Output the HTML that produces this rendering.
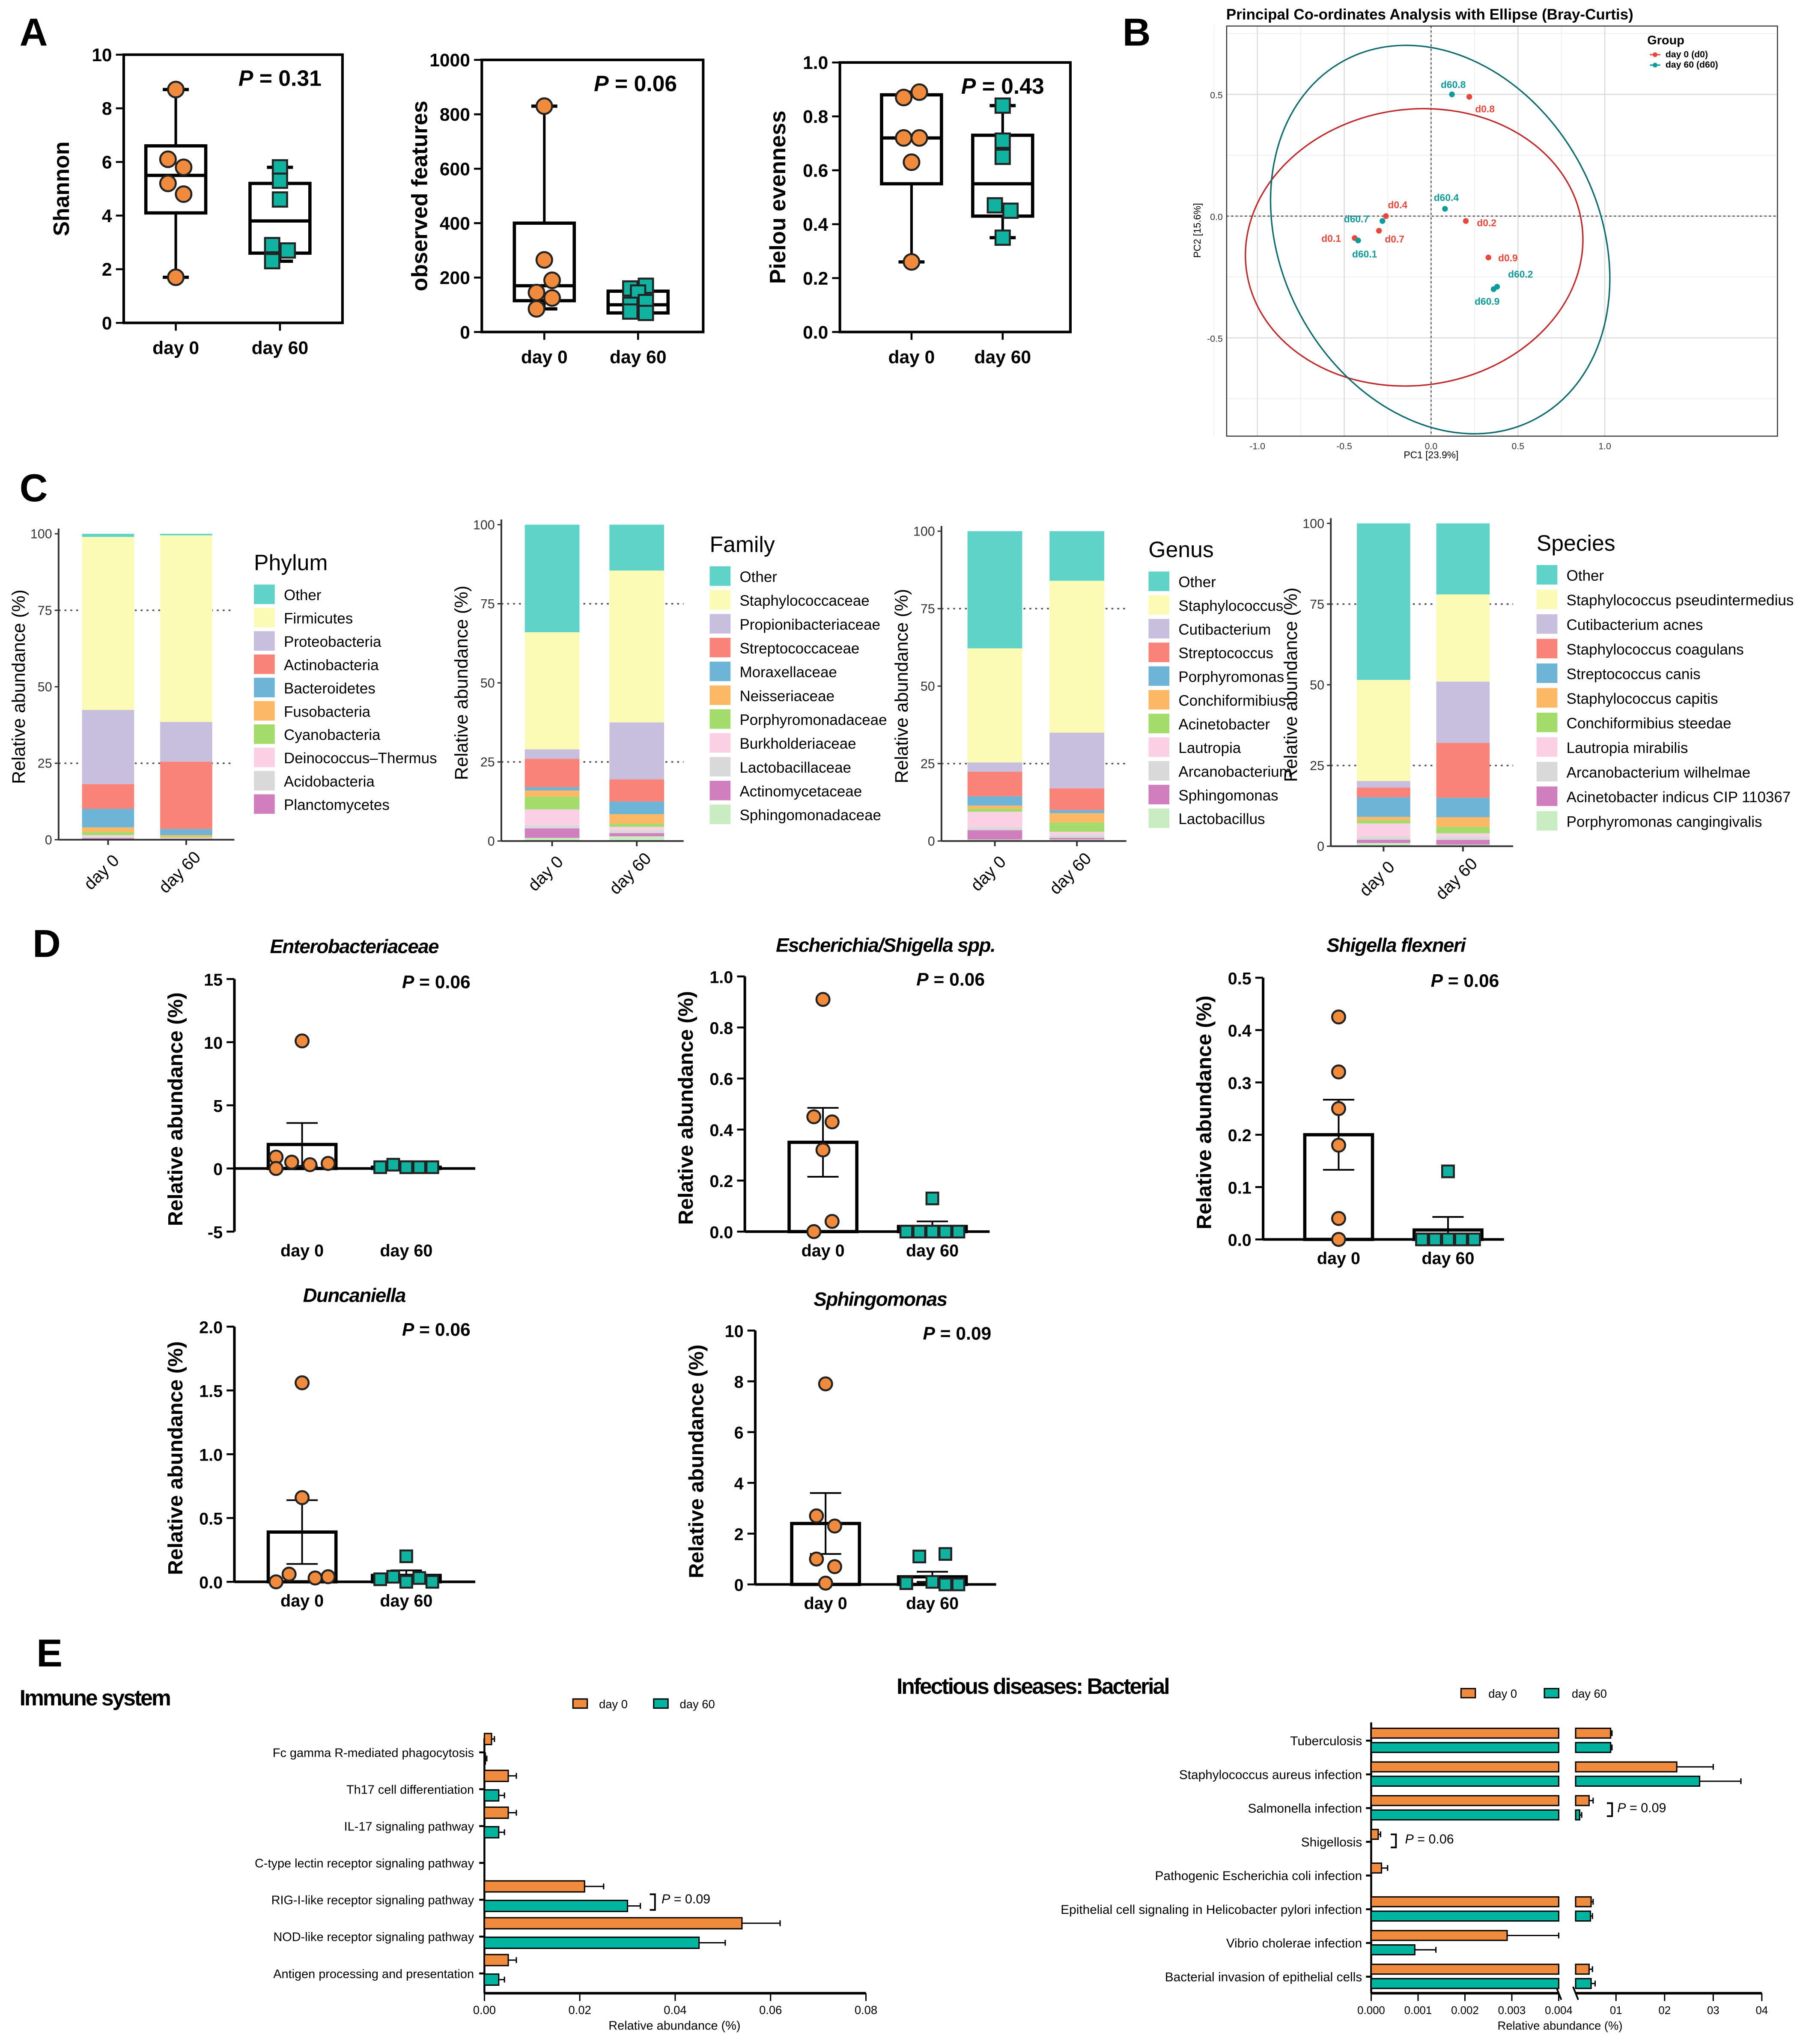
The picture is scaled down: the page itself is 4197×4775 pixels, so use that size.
<!DOCTYPE html>
<html><head><meta charset="utf-8">
<style>
html,body{margin:0;padding:0;background:#fff;}
svg{display:block;font-family:"Liberation Sans",Arial,sans-serif;}
</style></head>
<body>
<svg id="fig" width="4197" height="4775" viewBox="0 0 1380 1570" preserveAspectRatio="none" xmlns="http://www.w3.org/2000/svg"></svg>
<script>
// ---------- DATA ----------
const boxGroups = ["day 0","day 60"];
const shannonDay0 = [8.7, 6.1, 5.8, 5.2, 4.8, 1.7];
const shannonDay60 = [5.8, 5.3, 4.6, 2.9, 2.7, 2.3];
const shannonBox0 = [4.1, 5.5, 6.6];
const shannonBox60 = [2.6, 3.8, 5.2];
const shannonTicks = [0,2,4,6,8,10];
const obsDay0 = [830, 265, 190, 145, 125, 85];
const obsDay60 = [170, 160, 145, 110, 100, 75, 70];
const obsBox0 = [115, 170, 400];
const obsBox60 = [70, 100, 150];
const obsTicks = [0,200,400,600,800,1000];
const pielouDay0 = [0.89, 0.87, 0.72, 0.72, 0.63, 0.26];
const pielouDay60 = [0.84, 0.71, 0.65, 0.47, 0.45, 0.35];
const pielouBox0 = [0.55, 0.72, 0.88];
const pielouBox60 = [0.43, 0.55, 0.73];
const pielouTicks = [0.0,0.2,0.4,0.6,0.8,1.0];

const pcoaLabels = ["d0.8","d60.8","d60.4","d0.4","d60.7","d0.7","d0.1","d60.1","d0.2","d0.9","d60.2","d60.9"];
const pcoaPC1 = [0.22,0.12,0.08,-0.26,-0.28,-0.30,-0.44,-0.42,0.20,0.33,0.38,0.36];
const pcoaPC2 = [0.49,0.50,0.03,0.0,-0.02,-0.06,-0.09,-0.10,-0.02,-0.17,-0.29,-0.30];
const pcoaGroup = [0,1,1,0,1,0,0,1,0,0,1,1];
const pcoaXTicks = [-1.0,-0.5,0.0,0.5,1.0];
const pcoaYTicks = [0.5,0.0,-0.5];

const stackColors = ["#5fd3c8","#fbfbb6","#c7bfdd","#f98378","#6eb4d6","#fdb866","#a3dc6a","#fbd0e4","#d9d9d9","#d17ebf","#c9ecc3"];
const phylumNames = ["Other","Firmicutes","Proteobacteria","Actinobacteria","Bacteroidetes","Fusobacteria","Cyanobacteria","Deinococcus\u2013Thermus","Acidobacteria","Planctomycetes"];
const phylumDay0 = [1,56,24,8,6,1.5,1,0.5,0.5,0.5];
const phylumDay60 = [0.5,61,13,22,2,0.5,0.3,0.2,0.2,0.3];
const familyNames = ["Other","Staphylococcaceae","Propionibacteriaceae","Streptococcaceae","Moraxellaceae","Neisseriaceae","Porphyromonadaceae","Burkholderiaceae","Lactobacillaceae","Actinomycetaceae","Sphingomonadaceae"];
const familyDay0 = [34,37,3,9,1,2,4,5,1,3,1];
const familyDay60 = [14.5,48,18,7,4,3,1,1,1,1,1.5];
const genusNames = ["Other","Staphylococcus","Cutibacterium","Streptococcus","Porphyromonas","Conchiformibius","Acinetobacter","Lautropia","Arcanobacterium","Sphingomonas","Lactobacillus"];
const genusDay0 = [38,37,3,8,3,1,1,5,1,3,0.5];
const genusDay60 = [16,49,18,7,1,3,3,1,1,0.5,0.5];
const speciesNames = ["Other","Staphylococcus pseudintermedius","Cutibacterium acnes","Staphylococcus coagulans","Streptococcus canis","Staphylococcus capitis","Conchiformibius steedae","Lautropia mirabilis","Arcanobacterium wilhelmae","Acinetobacter indicus CIP 110367","Porphyromonas cangingivalis"];
const speciesDay0 = [48,31,2,3,6,1,1,4,1,1,1];
const speciesDay60 = [22,27,19,17,6,3,2,1,1,1.5,0.5];
const stackTicks = [0,25,50,75,100];

const dTitles = ["Enterobacteriaceae","Escherichia/Shigella spp.","Shigella flexneri","Duncaniella","Sphingomonas"];
const dPvals = ["0.06","0.06","0.06","0.06","0.09"];
const dMean0 = [1.9,0.35,0.2,0.39,2.4];
const dSem0 = [1.7,0.135,0.067,0.25,1.2];
const dMean60 = [0.1,0.02,0.018,0.05,0.3];
const dSem60 = [0.1,0.02,0.025,0.04,0.2];
const dPts0 = [[10.1,0.9,0.5,0.3,0.4,0.0],[0.91,0.45,0.43,0.32,0.04,0.0],[0.425,0.32,0.25,0.18,0.04,0.0],[1.56,0.66,0.06,0.03,0.04,0.0],[7.9,2.7,2.3,1.0,0.7,0.05]];
const dPts60 = [[0.1,0.3,0.1,0.1,0.1,0.1],[0.13,0,0,0,0,0],[0.13,0,0,0,0,0],[0.2,0.04,0.03,0.02,0,0],[1.2,1.1,0.1,0.05,0,0]];
const dTicks = [[-5,0,5,10,15],[0.0,0.2,0.4,0.6,0.8,1.0],[0.0,0.1,0.2,0.3,0.4,0.5],[0.0,0.5,1.0,1.5,2.0],[0,2,4,6,8,10]];

const immuneCats = ["Fc gamma R-mediated phagocytosis","Th17 cell differentiation","IL-17 signaling pathway","C-type lectin receptor signaling pathway","RIG-I-like receptor signaling pathway","NOD-like receptor signaling pathway","Antigen processing and presentation"];
const immuneDay0 = [0.0015,0.005,0.005,0.0,0.021,0.054,0.005];
const immuneDay60 = [0.0002,0.003,0.003,0.0,0.030,0.045,0.003];
const immuneErr0 = [0.0006,0.0017,0.0017,0,0.004,0.008,0.0017];
const immuneErr60 = [0.0003,0.0012,0.0012,0,0.0027,0.0055,0.0012];
const immuneTicks = [0.00,0.02,0.04,0.06,0.08];

const infCats = ["Tuberculosis","Staphylococcus aureus infection","Salmonella infection","Shigellosis","Pathogenic Escherichia coli infection","Epithelial cell signaling in Helicobacter pylori infection","Vibrio cholerae infection","Bacterial invasion of epithelial cells"];
const infDay0 = [0.0092,0.0225,0.006,0.00015,0.00022,0.0063,0.0029,0.006];
const infDay60 = [0.0092,0.0272,0.0046,0.0,0.0,0.0062,0.00093,0.0063];
const infErr0 = [0.0002,0.0075,0.0006,0.00005,0.00013,0.0003,0.0011,0.0005];
const infErr60 = [0.0002,0.0085,0.0003,0,0,0.0003,0.00045,0.0006];
const infTicksL = ["0.000","0.001","0.002","0.003","0.004"];
const infTicksR = [0.01,0.02,0.03,0.04];
const infTickLabR = ["01","02","03","04"];

// ---------- HELPERS ----------
const NS="http://www.w3.org/2000/svg";
const svg=document.getElementById('fig');
const ORANGE="#f08a3c", TEAL="#10b3a0";
function mk(tag,attrs,parent){const e=document.createElementNS(NS,tag);for(const k in attrs)e.setAttribute(k,attrs[k]);(parent||svg).appendChild(e);return e;}
function tx(x,y,s,attrs,parent){const e=mk('text',Object.assign({x:x,y:y},attrs||{}),parent);e.textContent=s;return e;}
function grp(name){const g=mk('g',{});return g;}

// panel letters
[["A",15,35],["B",862,35],["C",15,385],["D",25,735],["E",28,1280]].forEach(p=>{
  const t=tx(p[1],p[2],p[0],{'font-size':30,'font-weight':'bold'});
  
  
});

// ---------- PANEL A ----------
function boxPanel(name,cfg,d0,d60,b0,b60){
  const g=grp(name);
  const y=v=>cfg.yb-(v-cfg.min)/(cfg.max-cfg.min)*(cfg.yb-cfg.yt);
  const r=mk('rect',{x:cfg.xl,y:cfg.yt,width:cfg.xr-cfg.xl,height:cfg.yb-cfg.yt,fill:'none',stroke:'#000','stroke-width':2},g);
  
  cfg.ticks.forEach(t=>{mk('line',{x1:cfg.xl-6,x2:cfg.xl,y1:y(t),y2:y(t),stroke:'#000','stroke-width':1.5},g);
    const l=tx(cfg.xl-9,y(t)+5,cfg.fmt(t),{'font-size':14,'text-anchor':'end','font-weight':'bold'},g);});
  const yl=tx(0,0,cfg.label,{'font-size':17,'font-weight':'bold','text-anchor':'middle',transform:`translate(${cfg.xl-42},${(cfg.yt+cfg.yb)/2}) rotate(-90)`},g);
  
  const pt=tx(cfg.px,cfg.yt+24,'',{'font-size':17,'font-weight':'bold','text-anchor':'middle'},g);
  pt.innerHTML='<tspan font-style="italic">P</tspan> = '+cfg.p;
  
  [[d0,b0],[d60,b60]].forEach((dd,i)=>{
    const d=dd[0],b=dd[1];
    const cx=cfg.xs[i];const mn=Math.min(...d),mx=Math.max(...d);
    mk('line',{x1:cx,x2:cx,y1:y(mx),y2:y(b[2]),stroke:'#000','stroke-width':2},g);
    mk('line',{x1:cx,x2:cx,y1:y(b[0]),y2:y(mn),stroke:'#000','stroke-width':2},g);
    [mn,mx].forEach(v=>mk('line',{x1:cx-10,x2:cx+10,y1:y(v),y2:y(v),stroke:'#000','stroke-width':2.5},g));
    const bx=mk('rect',{x:cx-23,y:y(b[2]),width:46,height:y(b[0])-y(b[2]),fill:'#fff',stroke:'#000','stroke-width':2.5},g);
    
    mk('line',{x1:cx-23,x2:cx+23,y1:y(b[1]),y2:y(b[1]),stroke:'#000','stroke-width':2.5},g);
    const offs=cfg.offs[i];
    d.forEach((v,j)=>{
      let m;const ox=offs[j];
      if(i===0){m=mk('circle',{cx:cx+ox,cy:y(v),r:6,fill:ORANGE,stroke:'#222','stroke-width':1.5},g);}
      else{m=mk('rect',{x:cx+ox-5.5,y:y(v)-5.5,width:11,height:11,fill:TEAL,stroke:'#222','stroke-width':1.5},g);}
      
    });
    mk('line',{x1:cx,x2:cx,y1:cfg.yb,y2:cfg.yb+6,stroke:'#000','stroke-width':1.5},g);
    const cl=tx(cx,cfg.yb+24,boxGroups[i],{'font-size':14,'font-weight':'bold','text-anchor':'middle'},g);
    
  });
}
boxPanel('shannon-plot',{xl:95,xr:263,yt:42,yb:248,min:0,max:10,ticks:shannonTicks,fmt:t=>String(t),label:'Shannon',xs:[135,215],px:215,p:'0.31',
  offs:[[0,-6,6,-6,6,0],[0,0,0,-6,6,-6]]},shannonDay0,shannonDay60,shannonBox0,shannonBox60);
boxPanel('observed-features-plot',{xl:370,xr:540,yt:46,yb:255,min:0,max:1000,ticks:obsTicks,fmt:t=>String(t),label:'observed features',xs:[418,490],px:488,p:'0.06',
  offs:[[0,0,6,-6,6,-6],[6,-6,0,6,-6,-6,6]]},obsDay0,obsDay60,obsBox0,obsBox60);
boxPanel('pielou-plot',{xl:645,xr:822,yt:48,yb:255,min:0,max:1,ticks:pielouTicks,fmt:t=>t.toFixed(1),label:'Pielou evenness',xs:[700,770],px:770,p:'0.43',
  offs:[[6,-6,-6,6,0,0],[0,0,0,-6,6,0]]},pielouDay0,pielouDay60,pielouBox0,pielouBox60);

// ---------- PANEL B ----------
(function(){
  const g=grp('pcoa-plot');
  const X=v=>1099+v*133.4, Y=v=>166-v*187;
  const t=tx(1098,15,'Principal Co-ordinates Analysis with Ellipse (Bray-Curtis)',{'font-size':11.5,'font-weight':'bold','text-anchor':'middle'},g);
  
  [-1.25,-0.75,-0.25,0.25,0.75].forEach(v=>mk('line',{x1:X(v),x2:X(v),y1:20,y2:335,stroke:'#eee','stroke-width':0.6},g));
  [0.75,0.25,-0.25,-0.75].forEach(v=>mk('line',{x1:942,x2:1365,y1:Y(v),y2:Y(v),stroke:'#eee','stroke-width':0.6},g));
  pcoaXTicks.forEach(v=>{mk('line',{x1:X(v),x2:X(v),y1:20,y2:335,stroke:'#ddd','stroke-width':0.9},g);
    const l=tx(X(v),345,v.toFixed(1),{'font-size':7,'text-anchor':'middle',fill:'#333'},g);});
  pcoaYTicks.forEach(v=>{mk('line',{x1:942,x2:1365,y1:Y(v),y2:Y(v),stroke:'#ddd','stroke-width':0.9},g);
    const l=tx(939,Y(v)+3,v.toFixed(1),{'font-size':7,'text-anchor':'end',fill:'#333'},g);});
  mk('line',{x1:X(0),x2:X(0),y1:20,y2:335,stroke:'#444','stroke-width':0.8,'stroke-dasharray':'1.5,2'},g);
  mk('line',{x1:942,x2:1365,y1:Y(0),y2:Y(0),stroke:'#444','stroke-width':0.8,'stroke-dasharray':'1.5,2'},g);
  const fr=mk('rect',{x:942,y:20,width:423,height:315,fill:'none',stroke:'#333','stroke-width':0.8},g);
  const e1=mk('ellipse',{cx:1086,cy:190,rx:130,ry:106,fill:'none',stroke:'#c0282a','stroke-width':1.1,transform:'rotate(-8 1086 190)'},g);
  
  const e2=mk('ellipse',{cx:1106,cy:184,rx:122,ry:156,fill:'none',stroke:'#0b6b6e','stroke-width':1.1,transform:'rotate(-28 1106 184)'},g);
  
  const off={"d0.8":[12,12],"d60.8":[1,-5],"d60.4":[1,-6],"d0.4":[9,-6],"d60.7":[-20,1],"d0.7":[12,9],"d0.1":[-18,3],"d60.1":[5,13],"d0.2":[16,4],"d0.9":[15,3],"d60.2":[18,-7],"d60.9":[-5,12]};
  pcoaLabels.forEach((lab,i)=>{
    const c=pcoaGroup[i]?'#119a9a':'#e8473c';
    const p=mk('circle',{cx:X(pcoaPC1[i]),cy:Y(pcoaPC2[i]),r:2.2,fill:c},g);
    
    const o=off[lab]||[8,-4];
    const l=tx(X(pcoaPC1[i])+o[0],Y(pcoaPC2[i])+o[1],lab,{'font-size':7.5,'font-weight':'bold','text-anchor':'middle',fill:c},g);
    
  });
  const xt=tx(1099,352,'PC1  [23.9%]',{'font-size':7.5,'text-anchor':'middle'},g);
  const yt=tx(0,0,'PC2  [15.6%]',{'font-size':7.5,'text-anchor':'middle',transform:'translate(922,177) rotate(-90)'},g);
  const lt=tx(1265,34,'Group',{'font-size':9.5,'font-weight':'bold'},g);
  [['day 0 (d0)','#e8473c',44],['day 60 (d60)','#119a9a',52]].forEach(l=>{
    const le=grp('legend-entry');g.appendChild(le);
    mk('line',{x1:1267,x2:1275,y1:l[2]-2,y2:l[2]-2,stroke:l[1],'stroke-width':1},le);
    mk('circle',{cx:1271,cy:l[2]-2,r:1.8,fill:l[1]},le);
    tx(1279,l[2],l[0],{'font-size':7,'font-weight':'bold'},le);
  });
})();

// ---------- PANEL C ----------
function stackPanel(name,cfg,names,d0,d60){
  const g=grp(name);
  const y=v=>cfg.yb-v/100*(cfg.yb-cfg.yt);
  stackTicks.forEach(t=>{
    const l=tx(cfg.xl-5,y(t)+3.5,String(t),{'font-size':10,'text-anchor':'end',fill:'#333'},g);
    
    mk('line',{x1:cfg.xl-3,x2:cfg.xl,y1:y(t),y2:y(t),stroke:'#333','stroke-width':1},g);
  });
  [25,75].forEach(t=>mk('line',{x1:cfg.xl,x2:cfg.xr,y1:y(t),y2:y(t),stroke:'#555','stroke-width':1.2,'stroke-dasharray':'1.5,3'},g));
  const yl=tx(0,0,'Relative abundance (%)',{'font-size':14,'text-anchor':'middle',transform:`translate(${cfg.xl-26},${(cfg.yt+cfg.yb)/2}) rotate(-90)`},g);
  
  [d0,d60].forEach((d,i)=>{
    const bx=cfg.bars[i];let acc=0;
    const tot=d.reduce((a,b)=>a+b,0);
    for(let k=d.length-1;k>=0;k--){
      const v=d[k]/tot*100;
      const r=mk('rect',{x:bx,y:y(acc+v),width:cfg.bw,height:y(acc)-y(acc+v),fill:stackColors[k]},g);
      
      
      acc+=v;
    }
    const cl=tx(0,0,boxGroups[i],{'font-size':13,'text-anchor':'middle',transform:`translate(${bx+cfg.bw/2-2},${cfg.yb+28}) rotate(-45)`},g);
    
  });
  mk('line',{x1:cfg.xl,x2:cfg.xl,y1:cfg.yt-4,y2:cfg.yb,stroke:'#333','stroke-width':1.3},g);
  mk('line',{x1:cfg.xl,x2:cfg.xr,y1:cfg.yb,y2:cfg.yb,stroke:'#333','stroke-width':1.3},g);
  cfg.bars.forEach(b=>mk('line',{x1:b+cfg.bw/2,x2:b+cfg.bw/2,y1:cfg.yb,y2:cfg.yb+4,stroke:'#333','stroke-width':1.3},g));
  const lt=tx(cfg.lx,cfg.ly,cfg.title,{'font-size':17},g);
  names.forEach((n,k)=>{
    const le=grp('legend-entry');g.appendChild(le);
    const yy=cfg.ly+22+k*cfg.step;
    mk('rect',{x:cfg.lx,y:yy-11,width:16,height:15,fill:stackColors[k]},le);
    tx(cfg.lx+23,yy+1,n,{'font-size':11.5},le);
  });
}
stackPanel('phylum-chart',{xl:45,xr:180,yt:410,yb:645,bars:[63,123],bw:40,lx:195,ly:438,step:17.9,title:'Phylum'},phylumNames,phylumDay0,phylumDay60);
stackPanel('family-chart',{xl:385,xr:525,yt:403,yb:646,bars:[403,468],bw:42,lx:545,ly:424,step:18.3,title:'Family'},familyNames,familyDay0,familyDay60);
stackPanel('genus-chart',{xl:723,xr:865,yt:408,yb:646,bars:[743,806],bw:42,lx:882,ly:428,step:18.2,title:'Genus'},genusNames,genusDay0,genusDay60);
stackPanel('species-chart',{xl:1022,xr:1162,yt:402,yb:650,bars:[1042,1103],bw:41,lx:1180,ly:423,step:18.9,title:'Species'},speciesNames,speciesDay0,speciesDay60);

// ---------- PANEL D ----------
const dCfg=[{xl:180,xr:365,yt:752,yb:946,xs:[232,312],tx:272,ty:732,o0:[0,-20,-8,6,20,-20],o60:[-20,-10,0,10,20,0]},
  {xl:572,xr:760,yt:750,yb:946,xs:[632,716],tx:680,ty:731,o0:[0,-7,7,0,7,-7],o60:[0,-20,-10,0,10,20]},
  {xl:970,xr:1155,yt:751,yb:952,xs:[1028,1112],tx:1072,ty:731,o0:[0,0,0,0,0,0],o60:[0,-20,-10,0,10,20]},
  {xl:180,xr:365,yt:1019,yb:1215,xs:[232,312],tx:272,ty:1000,o0:[0,0,-10,10,20,-20],o60:[0,-10,10,-20,0,20]},
  {xl:580,xr:765,yt:1022,yb:1217,xs:[634,716],tx:676,ty:1003,o0:[0,-7,7,-7,7,0],o60:[10,-10,0,-20,10,20]}];
dTitles.forEach((title,i)=>{
  const c=dCfg[i];const tk=dTicks[i];const mn=tk[0],mx=tk[tk.length-1];
  const g=grp('dot-bar-plot-'+(i+1));
  const y=v=>c.yb-(v-mn)/(mx-mn)*(c.yb-c.yt);
  const t=tx(c.tx,c.ty,title,{'font-size':15,'font-weight':'bold','font-style':'italic','text-anchor':'middle','letter-spacing':'-0.5'},g);
  
  const p=tx(c.xr-30,c.yt+7,'',{'font-size':14,'font-weight':'bold','text-anchor':'middle'},g);
  p.innerHTML='<tspan font-style="italic">P</tspan> = '+dPvals[i];
  
  mk('line',{x1:c.xl,x2:c.xl,y1:c.yt,y2:c.yb,stroke:'#000','stroke-width':2},g);
  mk('line',{x1:c.xl,x2:c.xr,y1:y(0),y2:y(0),stroke:'#000','stroke-width':2},g);
  tk.forEach(v=>{mk('line',{x1:c.xl-6,x2:c.xl,y1:y(v),y2:y(v),stroke:'#000','stroke-width':1.5},g);
    const l=tx(c.xl-9,y(v)+5,String(v%1===0&&mx>2?v:v.toFixed(1)),{'font-size':13,'font-weight':'bold','text-anchor':'end'},g);
    });
  const yl=tx(0,0,'Relative abundance (%)',{'font-size':16,'font-weight':'bold','text-anchor':'middle',transform:`translate(${c.xl-40},${(c.yt+c.yb)/2+3}) rotate(-90)`},g);
  
  [[dMean0[i],dSem0[i],dPts0[i],c.o0],[dMean60[i],dSem60[i],dPts60[i],c.o60]].forEach((dd,k)=>{
    const cx=c.xs[k];
    const b=mk('rect',{x:cx-26,y:Math.min(y(dd[0]),y(0)),width:52,height:Math.abs(y(0)-y(dd[0])),fill:'#fff',stroke:'#000','stroke-width':2.5},g);
    
    mk('line',{x1:cx,x2:cx,y1:y(dd[0]+dd[1]),y2:y(dd[0]-dd[1]),stroke:'#000','stroke-width':1.3},g);
    [dd[0]+dd[1],dd[0]-dd[1]].forEach(v=>mk('line',{x1:cx-12,x2:cx+12,y1:y(v),y2:y(v),stroke:'#000','stroke-width':1.3},g));
    dd[2].forEach((v,j)=>{
      const ox=dd[3][j];
      let m;
      if(k===0)m=mk('circle',{cx:cx+ox,cy:y(v),r:5,fill:ORANGE,stroke:'#222','stroke-width':1.5},g);
      else m=mk('rect',{x:cx+ox-4.5,y:y(v)-4.5,width:9,height:9,fill:TEAL,stroke:'#222','stroke-width':1.5},g);
      
    });
    const cl=tx(cx,c.yb+19,boxGroups[k],{'font-size':13,'font-weight':'bold','text-anchor':'middle'},g);
    
  });
});

// ---------- PANEL E LEFT ----------
(function(){
  const g=grp('immune-system-chart');
  const X=v=>372+v/0.08*293;
  const t=tx(15,1310,'Immune system',{'font-size':17,'font-weight':'bold','letter-spacing':'-1'},g);
  
  [['day 0',ORANGE,440],['day 60','#00b5a0',502]].forEach(l=>{const le=grp('legend-entry');g.appendChild(le);
    mk('rect',{x:l[2],y:1305,width:11,height:7,fill:l[1],stroke:'#000','stroke-width':1},le);
    tx(l[2]+20,1312,l[0],{'font-size':9},le);});
  mk('line',{x1:372,x2:372,y1:1335,y2:1531,stroke:'#000','stroke-width':1.5},g);
  mk('line',{x1:372,x2:665,y1:1531,y2:1531,stroke:'#000','stroke-width':2},g);
  immuneTicks.forEach(v=>{mk('line',{x1:X(v),x2:X(v),y1:1531,y2:1537,stroke:'#000','stroke-width':1},g);
    const l=tx(X(v),1547,v.toFixed(2),{'font-size':9,'text-anchor':'middle'},g);});
  const xt=tx(518,1559,'Relative abundance (%)',{'font-size':9.5,'text-anchor':'middle'},g);
  immuneCats.forEach((cat,i)=>{
    const yc=1346+i*28.3;
    mk('line',{x1:368,x2:372,y1:yc,y2:yc,stroke:'#000','stroke-width':1.5},g);
    const l=tx(364,yc+3.5,cat,{'font-size':9.5,'text-anchor':'end'},g);
    [[immuneDay0[i],immuneErr0[i],ORANGE,yc-14.5],[immuneDay60[i],immuneErr60[i],'#00b5a0',yc+0.5]].forEach((b,k)=>{
      if(b[0]<=0)return;
      const r=mk('rect',{x:372,y:b[3],width:X(b[0])-372,height:8.5,fill:b[2],stroke:'#000','stroke-width':1},g);
      
      mk('line',{x1:X(b[0]),x2:X(b[0]+b[1]),y1:b[3]+4.25,y2:b[3]+4.25,stroke:'#000','stroke-width':1},g);
      mk('line',{x1:X(b[0]+b[1]),x2:X(b[0]+b[1]),y1:b[3]+2,y2:b[3]+6.5,stroke:'#000','stroke-width':1},g);
    });
  });
  mk('path',{d:'M499,1455 h4 v12 h-4',fill:'none',stroke:'#000','stroke-width':1.3},g);
  const p=tx(508,1462,'',{'font-size':10},g);p.innerHTML='<tspan font-style="italic">P</tspan> = 0.09';
  
})();

// ---------- PANEL E RIGHT ----------
(function(){
  const g=grp('infectious-diseases-chart');
  const XL=v=>1053+v/0.004*144;
  const XR=v=>v<0.01?1210+(v-0.004)/0.006*31:1241+(v-0.01)*3733;
  const t=tx(793,1301,'Infectious diseases: Bacterial',{'font-size':17,'font-weight':'bold','text-anchor':'middle','letter-spacing':'-1'},g);
  
  [['day 0',ORANGE,1122],['day 60','#00b5a0',1186]].forEach(l=>{const le=grp('legend-entry');g.appendChild(le);
    mk('rect',{x:l[2],y:1297,width:11,height:7,fill:l[1],stroke:'#000','stroke-width':1},le);
    tx(l[2]+21,1304,l[0],{'font-size':9},le);});
  mk('line',{x1:1053,x2:1053,y1:1323,y2:1531,stroke:'#000','stroke-width':1.5},g);
  mk('line',{x1:1053,x2:1197,y1:1531,y2:1531,stroke:'#000','stroke-width':2},g);
  mk('line',{x1:1210,x2:1353,y1:1531,y2:1531,stroke:'#000','stroke-width':2},g);
  mk('line',{x1:1195,x2:1199,y1:1526,y2:1536,stroke:'#000','stroke-width':1.3},g);
  mk('line',{x1:1208,x2:1212,y1:1526,y2:1536,stroke:'#000','stroke-width':1.3},g);
  infTicksL.forEach((s,i)=>{const x=1053+i*36;mk('line',{x1:x,x2:x,y1:1531,y2:1537,stroke:'#000','stroke-width':1},g);
    const l=tx(x,1547,s,{'font-size':8.5,'text-anchor':'middle'},g);});
  infTicksR.forEach((v,i)=>{mk('line',{x1:XR(v),x2:XR(v),y1:1531,y2:1537,stroke:'#000','stroke-width':1},g);
    const l=tx(XR(v),1547,infTickLabR[i],{'font-size':8.5,'text-anchor':'middle'},g);});
  const xt=tx(1198,1559,'Relative abundance (%)',{'font-size':9,'text-anchor':'middle'},g);
  infCats.forEach((cat,i)=>{
    const yc=1337+i*25.9;
    mk('line',{x1:1049,x2:1053,y1:yc,y2:yc,stroke:'#000','stroke-width':1.5},g);
    const l=tx(1046,yc+3.5,cat,{'font-size':9.8,'text-anchor':'end'},g);
    [[infDay0[i],infErr0[i],ORANGE,yc-9.5],[infDay60[i],infErr60[i],'#00b5a0',yc+1.5]].forEach((b,k)=>{
      if(b[0]<=0)return;
      let endX;
      if(b[0]<=0.004){
        const r=mk('rect',{x:1053,y:b[3],width:XL(b[0])-1053,height:7.5,fill:b[2],stroke:'#000','stroke-width':1},g);
        
        endX=XL(b[0]+b[1]);
        mk('line',{x1:XL(b[0]),x2:endX,y1:b[3]+3.75,y2:b[3]+3.75,stroke:'#000','stroke-width':1},g);
      } else {
        const r=mk('rect',{x:1053,y:b[3],width:144,height:7.5,fill:b[2],stroke:'#000','stroke-width':1},g);
        
        const r2=mk('rect',{x:1210,y:b[3],width:Math.max(2,XR(b[0])-1210),height:7.5,fill:b[2],stroke:'#000','stroke-width':1},g);
        
        endX=XR(b[0]+b[1]);
        mk('line',{x1:Math.max(1210,XR(b[0])),x2:endX,y1:b[3]+3.75,y2:b[3]+3.75,stroke:'#000','stroke-width':1},g);
      }
      mk('line',{x1:endX,x2:endX,y1:b[3]+1.5,y2:b[3]+6,stroke:'#000','stroke-width':1},g);
    });
  });
  mk('path',{d:'M1234,1385 h4 v10 h-4',fill:'none',stroke:'#000','stroke-width':1.3},g);
  const p1=tx(1242,1392,'',{'font-size':10},g);p1.innerHTML='<tspan font-style="italic">P</tspan> = 0.09';
  
  mk('path',{d:'M1068,1409 h4 v10 h-4',fill:'none',stroke:'#000','stroke-width':1.3},g);
  const p2=tx(1079,1416,'',{'font-size':10},g);p2.innerHTML='<tspan font-style="italic">P</tspan> = 0.06';
  
})();
</script>
</body></html>
